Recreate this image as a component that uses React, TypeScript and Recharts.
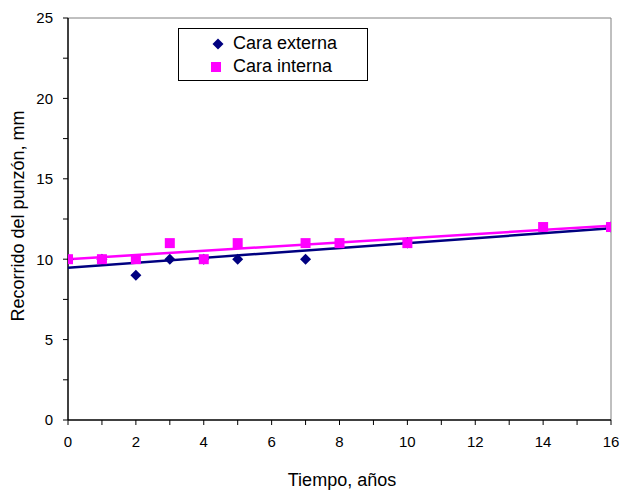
import React from "react";
import { ScatterChart, Scatter, XAxis, YAxis, ReferenceLine } from "recharts";

const tiempoExterna = [0, 1, 2, 3, 4, 5, 7, 10, 16];
const valoresExterna = [10, 10, 9, 10, 10, 10, 10, 11, 12];
const tiempoInterna = [0, 1, 2, 3, 4, 5, 7, 8, 10, 14, 16];
const valoresInterna = [10, 10, 10, 11, 10, 11, 11, 11, 11, 12, 12];
const tendenciaX = [0, 16];
const tendenciaExterna = [9.47, 11.92];
const tendenciaInterna = [10.0, 12.08];
const xTicks = [0, 1, 2, 3, 4, 5, 6, 7, 8, 9, 10, 11, 12, 13, 14, 15, 16];
const yTicks = [0, 2.5, 5, 7.5, 10, 12.5, 15, 17.5, 20, 22.5, 25];
const serieNombres = ["Cara externa", "Cara interna"];

const externa = tiempoExterna.map((x, i) => ({ x, y: valoresExterna[i] }));
const interna = tiempoInterna.map((x, i) => ({ x, y: valoresInterna[i] }));
const trendExt = tendenciaX.map((x, i) => ({ x, y: tendenciaExterna[i] }));
const trendInt = tendenciaX.map((x, i) => ({ x, y: tendenciaInterna[i] }));

const FONT = "'Liberation Sans', Arial, sans-serif";
const NAVY = "#000080";
const PINK = "#FF00FF";

const XTick = (props: any) => {
  const { x, y, payload } = props;
  if (payload.value % 2 !== 0) return <g />;
  return (
    <text x={x} y={y} dy="0.71em" textAnchor="middle" fontFamily={FONT} fontSize={15} fill="#000">
      {payload.value}
    </text>
  );
};

const YTick = (props: any) => {
  const { x, y, payload } = props;
  if (payload.value % 5 !== 0) return <g />;
  return (
    <text x={x} y={y} dy="0.36em" textAnchor="end" fontFamily={FONT} fontSize={15} fill="#000">
      {payload.value}
    </text>
  );
};

const Diamond = (props: any) => {
  const { cx, cy } = props;
  const r = 5.5;
  return <path d={`M${cx},${cy - r}L${cx + r},${cy}L${cx},${cy + r}L${cx - r},${cy}Z`} fill={NAVY} />;
};

const Square = (props: any) => {
  const { cx, cy } = props;
  const s = 10;
  return <rect x={cx - s / 2} y={cy - s / 2} width={s} height={s} fill={PINK} />;
};

const Empty = () => <g />;

const LegendBox = () => (
  <div
    style={{
      position: "absolute",
      left: 178,
      top: 28,
      border: "1px solid #000",
      background: "#fff",
      width: 190,
      height: 53,
      boxSizing: "border-box",
      fontFamily: FONT,
      fontSize: 18,
      color: "#000",
    }}
  >
    <svg width={12} height={12} style={{ position: "absolute", left: 33, top: 9 }}>
      <path d="M6,0.5L11.5,6L6,11.5L0.5,6Z" fill={NAVY} />
    </svg>
    <div style={{ position: "absolute", left: 54, top: 4, lineHeight: "20px" }}>{serieNombres[0]}</div>
    <svg width={12} height={12} style={{ position: "absolute", left: 31, top: 32 }}>
      <rect x={1} y={1} width={10} height={10} fill={PINK} />
    </svg>
    <div style={{ position: "absolute", left: 54, top: 27, lineHeight: "20px" }}>{serieNombres[1]}</div>
  </div>
);

export default function App() {
  return (
    <div style={{ position: "absolute", left: 0, top: 0, width: 622, height: 491, background: "#fff" }}>
      <ScatterChart width={622} height={491} margin={{ top: 18, right: 11, bottom: 0, left: 0 }}>
        <XAxis
          type="number"
          dataKey="x"
          domain={[0, 16]}
          ticks={xTicks}
          interval={0}
          height={71}
          tickSize={5}
          tickMargin={11}
          tick={<XTick />}
          axisLine={{ stroke: "#000", strokeWidth: 1.5 }}
          tickLine={{ stroke: "#000" }}
          allowDataOverflow
          label={{
            content: () => (
              <text x={342} y={486} textAnchor="middle" fontFamily={FONT} fontSize={18} fill="#000">
                Tiempo, años
              </text>
            ),
          }}
        />
        <YAxis
          type="number"
          dataKey="y"
          domain={[0, 25]}
          ticks={yTicks}
          interval={0}
          width={68}
          tickSize={5}
          tickMargin={10}
          tick={<YTick />}
          axisLine={{ stroke: "#000", strokeWidth: 1.5 }}
          tickLine={{ stroke: "#000" }}
          allowDataOverflow
          label={{
            content: () => (
              <text
                x={24}
                y={216}
                transform="rotate(-90 24 216)"
                textAnchor="middle"
                fontFamily={FONT}
                fontSize={18}
                fill="#000"
              >
                Recorrido del punzón, mm
              </text>
            ),
          }}
        />
        <ReferenceLine y={25} stroke="#808080" strokeWidth={1} />
        <ReferenceLine x={16} stroke="#808080" strokeWidth={1} />
        <Scatter data={trendExt} line={{ stroke: NAVY, strokeWidth: 2.5 }} shape={<Empty />} isAnimationActive={false} />
        <Scatter data={trendInt} line={{ stroke: PINK, strokeWidth: 2.5 }} shape={<Empty />} isAnimationActive={false} />
        <Scatter data={externa} shape={<Diamond />} isAnimationActive={false} />
        <Scatter data={interna} shape={<Square />} isAnimationActive={false} />
      </ScatterChart>
      <LegendBox />
    </div>
  );
}
